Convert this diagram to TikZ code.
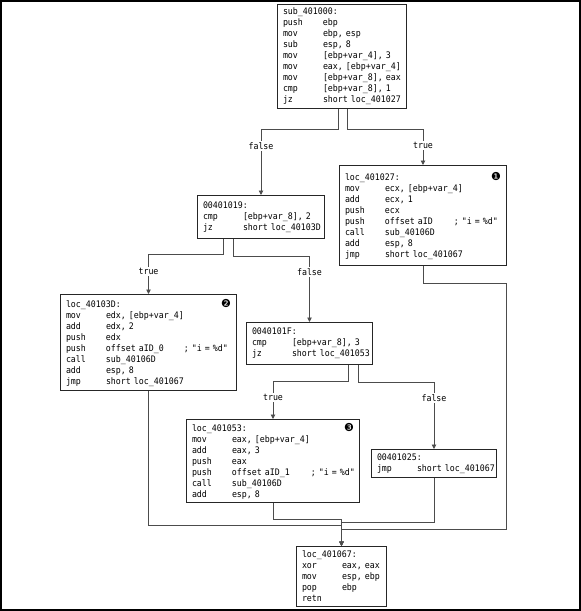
\documentclass[tikz,border=0pt]{standalone}
\usepackage{fontspec}
\setmonofont[FakeStretch=0.92]{DejaVu Sans Mono}
\newfontfamily\bulletfont{DejaVu Sans}
\usetikzlibrary{arrows.meta}

\newcommand{\codefont}{\ttfamily\fontsize{9}{11}\selectfont}
\newcommand{\asmline}[2]{\mbox{\makebox[40pt][l]{#1}#2}}
\newcommand{\callout}[1]{\hfill{\bulletfont\fontsize{11}{11}\selectfont #1}}

\begin{document}
\begin{tikzpicture}[x=1pt,y=-1pt,
    blk/.style={draw=black!85, line width=1pt, anchor=north west, align=left,
        inner xsep=5.5pt, inner ysep=0pt, font=\codefont},
    flow/.style={draw=black!70, line width=0.9pt, -{Triangle[length=4.5pt,width=4.5pt]}},
    lbl/.style={fill=white, inner sep=1.5pt, font=\codefont}]
    \useasboundingbox (0,0) rectangle (581,611);
    \draw[line width=2pt] (1,1) rectangle (580,610);

    % basic blocks
    \node[blk, text width=118pt, minimum height=104pt] (A) at (277,4) {sub\_401000:\\
        \asmline{push}{ebp}\\
        \asmline{mov}{ebp, esp}\\
        \asmline{sub}{esp, 8}\\
        \asmline{mov}{[ebp+var\_4], 3}\\
        \asmline{mov}{eax, [ebp+var\_4]}\\
        \asmline{mov}{[ebp+var\_8], eax}\\
        \asmline{cmp}{[ebp+var\_8], 1}\\
        \asmline{jz}{short loc\_401027}};
    \node[blk, text width=116pt, minimum height=43pt] (B) at (197,195) {00401019:\\
        \asmline{cmp}{[ebp+var\_8], 2}\\
        \asmline{jz}{short loc\_40103D}};
    \node[blk, text width=156pt, minimum height=100pt] (C) at (339,165) {loc\_401027:\callout{❶}\\
        \asmline{mov}{ecx, [ebp+var\_4]}\\
        \asmline{add}{ecx, 1}\\
        \asmline{push}{ecx}\\
        \asmline{push}{\makebox[69pt][l]{offset aID}; "i = \%d"}\\
        \asmline{call}{sub\_40106D}\\
        \asmline{add}{esp, 8}\\
        \asmline{jmp}{short loc\_401067}};
    \node[blk, text width=165pt, minimum height=96pt] (E) at (60,294) {loc\_40103D:\callout{❷}\\
        \asmline{mov}{edx, [ebp+var\_4]}\\
        \asmline{add}{edx, 2}\\
        \asmline{push}{edx}\\
        \asmline{push}{\makebox[78pt][l]{offset aID\_0}; "i = \%d"}\\
        \asmline{call}{sub\_40106D}\\
        \asmline{add}{esp, 8}\\
        \asmline{jmp}{short loc\_401067}};
    \node[blk, text width=115pt, minimum height=42pt] (F) at (246,322) {0040101F:\\
        \asmline{cmp}{[ebp+var\_8], 3}\\
        \asmline{jz}{short loc\_401053}};
    \node[blk, text width=162pt, minimum height=83pt] (G) at (186,419) {loc\_401053:\callout{❸}\\
        \asmline{mov}{eax, [ebp+var\_4]}\\
        \asmline{add}{eax, 3}\\
        \asmline{push}{eax}\\
        \asmline{push}{\makebox[79pt][l]{offset aID\_1}; "i = \%d"}\\
        \asmline{call}{sub\_40106D}\\
        \asmline{add}{esp, 8}};
    \node[blk, text width=114pt, minimum height=28pt] (H) at (371,449) {00401025:\\
        \asmline{jmp}{short loc\_401067}};
    \node[blk, text width=79pt, minimum height=60pt] (D) at (296,546) {loc\_401067:\\
        \asmline{xor}{eax, eax}\\
        \asmline{mov}{esp, ebp}\\
        \asmline{pop}{ebp}\\
        retn};

    % branches
    \draw[flow] ([xshift=-3.5pt]A.south) -- ++(0,20) -| node[lbl, pos=0.63] {false} (B.north);
    \draw[flow] ([xshift=5.5pt]A.south) -- ++(0,20) -| node[lbl, pos=0.73] {true} (C.north);
    \draw[flow] ([xshift=-37.5pt]B.south) -- ++(0,15) -| node[lbl, pos=0.72] {true} (E.north);
    \draw[flow] ([xshift=-27.5pt]B.south) -- ++(0,17) -| node[lbl, pos=0.62] {false} (F.north);
    \draw[flow] ([xshift=39pt]F.south) -- ++(0,16) -| node[lbl, pos=0.72] {true} (G.north);
    \draw[flow] ([xshift=49pt]F.south) -- ++(0,17) -| node[lbl, pos=0.62] {false} (H.north);

    % joins into loc_401067
    \draw[flow] (C.south) -- ++(0,17) -| ++(83.5,246) -| (D.north);
    \draw[flow] (E.south) -- ++(0,134) -| (D.north);
    \draw[flow] (G.south) -- ++(0,16) -| (D.north);
    \draw[flow] (H.south) -- ++(0,44) -| (D.north);
\end{tikzpicture}
\end{document}
